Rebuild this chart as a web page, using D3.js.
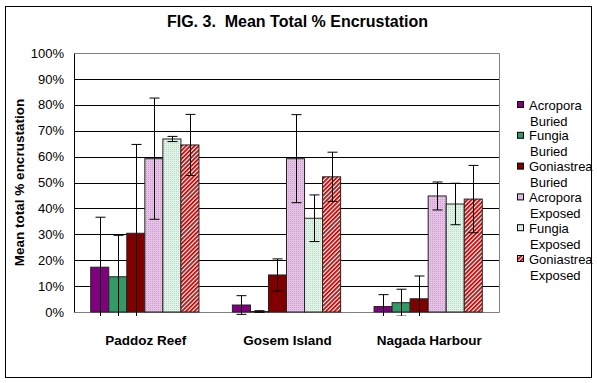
<!DOCTYPE html>
<html>
<head>
<meta charset="utf-8">
<script src="https://cdn.jsdelivr.net/npm/d3@7"></script>
<style>
  body { margin: 0; background: #fff; }
  svg { display: block; font-family: Arial, "Liberation Sans", sans-serif; }
</style>
</head>
<body>
<script>
// chart values
var categories = ["Paddoz Reef", "Gosem Island", "Nagada Harbour"];
var species = ["Acropora", "Fungia", "Goniastrea", "Acropora", "Fungia", "Goniastrea"];
var treatments = ["Buried", "Buried", "Buried", "Exposed", "Exposed", "Exposed"];

var acroporaBuried = [17.3, 2.7, 2.1];
var fungiaBuried = [13.6, 0.2, 3.6];
var goniastreaBuried = [30.4, 14.3, 5.1];
var acroporaExposed = [59.2, 59.2, 44.8];
var fungiaExposed = [66.8, 36.2, 41.7];
var goniastreaExposed = [64.5, 52.2, 43.6];

var acroporaBuriedErr = [19.3, 3.6, 4.6];
var fungiaBuriedErr = [16.0, 0.3, 5.2];
var goniastreaBuriedErr = [34.3, 6.2, 8.8];
var acroporaExposedErr = [23.4, 17.0, 5.4];
var fungiaExposedErr = [1.0, 9.0, 8.0];
var goniastreaExposedErr = [11.8, 9.5, 13.0];

var yTicks = [0, 10, 20, 30, 40, 50, 60, 70, 80, 90, 100];

window.onload = function() {
  var W = 597, H = 383;
  var margin = {top: 53, right: 98, bottom: 71, left: 74};
  var width = W - margin.left - margin.right;   // 425
  var height = H - margin.top - margin.bottom;  // 259

  var means = [acroporaBuried, fungiaBuried, goniastreaBuried, acroporaExposed, fungiaExposed, goniastreaExposed];
  var errs = [acroporaBuriedErr, fungiaBuriedErr, goniastreaBuriedErr, acroporaExposedErr, fungiaExposedErr, goniastreaExposedErr];
  var fills = ["#800080", "#339966", "#800000", "url(#pinkDots)", "url(#greenDots)", "url(#redHatch)"];

  var rows = [];
  categories.forEach(function(c, ci) {
    means.forEach(function(m, si) {
      rows.push({cat: c, s: si, v: m[ci], e: errs[si][ci]});
    });
  });

  var svg = d3.select("body").append("svg")
    .attr("width", W)
    .attr("height", H);

  // patterns for the exposed series
  var defs = svg.append("defs");
  var p1 = defs.append("pattern").attr("id", "pinkDots").attr("patternUnits", "userSpaceOnUse")
    .attr("width", 2).attr("height", 2);
  p1.append("rect").attr("width", 2).attr("height", 2).attr("fill", "#e6c3e6");
  p1.append("rect").attr("width", 1).attr("height", 1).attr("fill", "#cfa0cf");
  var p2 = defs.append("pattern").attr("id", "greenDots").attr("patternUnits", "userSpaceOnUse")
    .attr("width", 2).attr("height", 2);
  p2.append("rect").attr("width", 2).attr("height", 2).attr("fill", "#e2f2e8");
  p2.append("rect").attr("width", 1).attr("height", 1).attr("fill", "#b5dcc4");
  var p3 = defs.append("pattern").attr("id", "redHatch").attr("patternUnits", "userSpaceOnUse")
    .attr("width", 3).attr("height", 3).attr("patternTransform", "rotate(45)");
  p3.append("rect").attr("width", 3).attr("height", 3).attr("fill", "#fff");
  p3.append("rect").attr("width", 1.8).attr("height", 3).attr("fill", "#c00000");

  defs.append("clipPath").attr("id", "errClip")
    .append("rect").attr("x", -5).attr("y", -5).attr("width", width + 10).attr("height", height + 9);

  // outer border
  svg.append("rect")
    .attr("x", 5.5).attr("y", 6.5)
    .attr("width", 586).attr("height", 371)
    .attr("fill", "none").attr("stroke", "#000");

  // title
  svg.append("text")
    .attr("x", W / 2 - 1)
    .attr("y", 27)
    .attr("text-anchor", "middle")
    .style("font-size", "16px")
    .style("font-weight", "bold")
    .style("white-space", "pre")
    .text("FIG. 3.  Mean Total % Encrustation");

  var g = svg.append("g")
    .attr("transform", "translate(" + margin.left + "," + margin.top + ")");

  var x = d3.scaleBand()
    .domain(categories)
    .range([0, width])
    .paddingInner(0.236)
    .paddingOuter(0.118);

  var xs = d3.scaleBand()
    .domain(d3.range(means.length))
    .range([0, x.bandwidth()]);

  var y = d3.scaleLinear()
    .domain([0, 100])
    .range([height, 0]);

  // gridlines
  g.selectAll(".grid")
    .data(yTicks.slice(1, -1))
    .enter().append("line")
    .attr("class", "grid")
    .attr("x1", 0).attr("x2", width)
    .attr("y1", function(d) { return Math.round(y(d)) + 0.5; })
    .attr("y2", function(d) { return Math.round(y(d)) + 0.5; })
    .attr("stroke", "#000");

  // plot frame: grey top/right/bottom
  g.append("path")
    .attr("d", "M0.5,0.5H" + (width + 0.5) + "V" + (height + 0.5) + "H0.5")
    .attr("fill", "none").attr("stroke", "#808080");

  // bars
  g.selectAll(".bar")
    .data(rows)
    .enter().append("rect")
    .attr("class", "bar")
    .attr("x", function(d) { return x(d.cat) + xs(d.s); })
    .attr("y", function(d) { return y(d.v); })
    .attr("width", xs.bandwidth())
    .attr("height", function(d) { return height - y(d.v); })
    .attr("fill", function(d) { return fills[d.s]; })
    .attr("stroke", "#222")
    .attr("stroke-width", 1);

  // error bars
  var eg = g.append("g").attr("clip-path", "url(#errClip)");
  var err = eg.selectAll(".err")
    .data(rows)
    .enter().append("g")
    .attr("class", "err")
    .attr("transform", function(d) {
      return "translate(" + (Math.round(x(d.cat) + xs(d.s) + xs.bandwidth() / 2) + 0.5) + ",0)";
    });
  err.append("line")
    .attr("y1", function(d) { return y(d.v + d.e); })
    .attr("y2", function(d) { return y(d.v - d.e); })
    .attr("stroke", "#000");
  err.append("line")
    .attr("x1", -5).attr("x2", 5)
    .attr("y1", function(d) { return y(d.v + d.e); })
    .attr("y2", function(d) { return y(d.v + d.e); })
    .attr("stroke", "#000");
  err.append("line")
    .attr("x1", -5).attr("x2", 5)
    .attr("y1", function(d) { return y(d.v - d.e); })
    .attr("y2", function(d) { return y(d.v - d.e); })
    .attr("stroke", "#000");

  // y axis
  var yAxis = d3.axisLeft(y)
    .tickValues(yTicks)
    .tickSize(0)
    .tickPadding(10)
    .tickFormat(function(d) { return d + "%"; });
  var ya = g.append("g").attr("class", "y axis").call(yAxis);
  ya.select(".domain").attr("stroke", "#000");
  ya.selectAll("text")
    .style("font-size", "13px")
    .style("font-family", "Arial, 'Liberation Sans', sans-serif")
    .attr("fill", "#000");

  // x axis labels
  g.selectAll(".xlabel")
    .data(categories)
    .enter().append("text")
    .attr("class", "xlabel")
    .attr("x", function(d) { return x(d) + x.bandwidth() / 2 + 1; })
    .attr("y", height + 33)
    .attr("text-anchor", "middle")
    .style("font-size", "13.5px")
    .style("font-weight", "bold")
    .text(function(d) { return d; });

  // y axis title
  svg.append("text")
    .attr("transform", "translate(24," + (margin.top + height / 2) + ") rotate(-90)")
    .attr("text-anchor", "middle")
    .style("font-size", "13.5px")
    .style("font-weight", "bold")
    .text("Mean total % encrustation");

  // legend
  var legend = svg.append("g").attr("transform", "translate(517,105)");
  var item = legend.selectAll(".item")
    .data(species)
    .enter().append("g")
    .attr("class", "item")
    .attr("transform", function(d, i) { return "translate(0," + (i * 30.8) + ")"; });
  item.append("rect")
    .attr("x", 0.5).attr("y", -3.5)
    .attr("width", 6).attr("height", 6)
    .attr("fill", function(d, i) { return fills[i]; })
    .attr("stroke", "#000");
  item.append("text")
    .attr("x", 12).attr("y", 4.5)
    .style("font-size", "13px")
    .text(function(d) { return d; });
  item.append("text")
    .attr("x", 13).attr("y", 20.5)
    .style("font-size", "13px")
    .text(function(d, i) { return treatments[i]; });
};
</script>
</body>
</html>
